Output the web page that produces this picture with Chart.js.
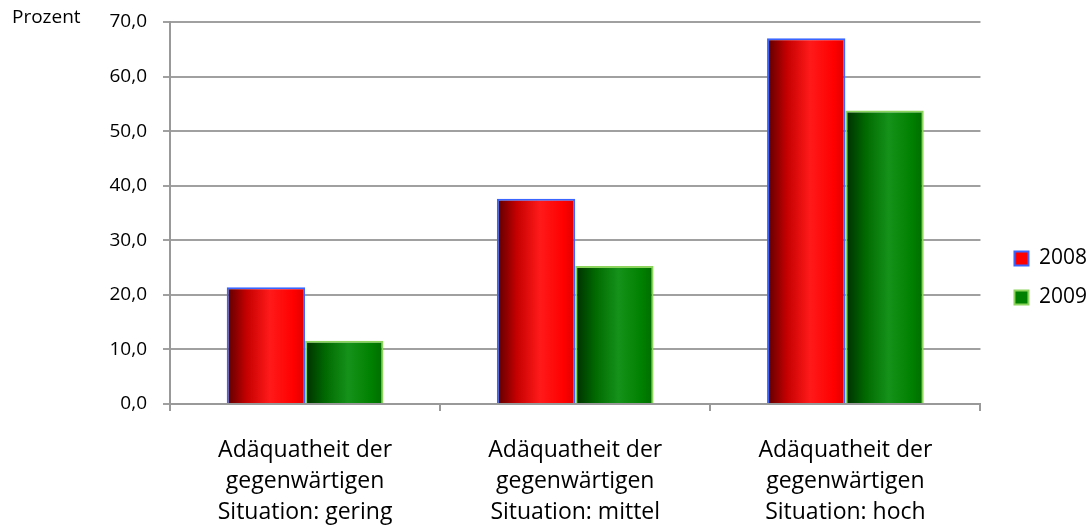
<!DOCTYPE html>
<html>
<head>
<meta charset="utf-8">
<script src="https://cdn.jsdelivr.net/npm/chart.js@4"></script>
<style>
  html, body { margin: 0; padding: 0; background: #fff; }
  #wrap { width: 1090px; height: 526px; }
</style>
</head>
<body>
<div id="wrap"><canvas id="myChart"></canvas></div>
<script>
const categories = [
  ['Adäquatheit der', 'gegenwärtigen', 'Situation: gering'],
  ['Adäquatheit der', 'gegenwärtigen', 'Situation: mittel'],
  ['Adäquatheit der', 'gegenwärtigen', 'Situation: hoch']
];
const values2008 = [21.4, 37.6, 67.0];
const values2009 = [11.6, 25.3, 53.8];
const seriesLabels = ['2008', '2009'];
const yTicks = [0, 10, 20, 30, 40, 50, 60, 70];

const FONT = 'Open Sans';

// horizontal "cylinder" shading of each bar
const shades = [
  [[0, '#5a0000'], [0.25, '#c40000'], [0.55, '#ff1a1a'], [0.85, '#ff0000'], [1, '#e00000']],
  [[0, '#002e00'], [0.25, '#006800'], [0.55, '#15921a'], [0.85, '#008000'], [1, '#006c00']]
];

const barShading = {
  id: 'barShading',
  beforeDatasetsDraw(chart) {
    const ctx = chart.ctx;
    chart.data.datasets.forEach((ds, i) => {
      const meta = chart.getDatasetMeta(i);
      meta.data.forEach((el) => {
        const half = el.width / 2;
        const g = ctx.createLinearGradient(el.x - half, 0, el.x + half, 0);
        shades[i].forEach(([p, c]) => g.addColorStop(p, c));
        // options are shared between bars, so give each bar its own copy
        el.options = Object.assign({}, el.options, { backgroundColor: g });
      });
    });
  }
};

const unitLabel = {
  id: 'unitLabel',
  afterDraw(chart) {
    const ctx = chart.ctx;
    ctx.save();
    ctx.font = '19px "' + FONT + '"';
    ctx.fillStyle = '#000';
    ctx.textAlign = 'left';
    ctx.textBaseline = 'middle';
    ctx.fillText('Prozent', 12, 18);
    ctx.restore();
  }
};

// nudge the legend a little right / down
const legendShift = {
  id: 'legendShift',
  afterLayout(chart) {
    const lg = chart.legend;
    lg.left += 16; lg.right += 16;
    lg.top += 4; lg.bottom += 4;
  }
};

new Chart(document.getElementById('myChart'), {
  type: 'bar',
  data: {
    labels: categories,
    datasets: [
      {
        label: seriesLabels[0],
        data: values2008,
        backgroundColor: '#ff0000',
        borderColor: '#3a66ff',
        borderWidth: 2
      },
      {
        label: seriesLabels[1],
        data: values2009,
        backgroundColor: '#008000',
        borderColor: '#8cd45e',
        borderWidth: 2
      }
    ]
  },
  options: {
    responsive: true,
    maintainAspectRatio: false,
    animation: false,
    devicePixelRatio: 1,
    layout: { padding: { top: 22, right: 9, left: 0, bottom: 0 } },
    datasets: {
      bar: { categoryPercentage: 0.58, barPercentage: 1.0 }
    },
    plugins: {
      tooltip: { enabled: false },
      legend: {
        position: 'right',
        labels: {
          color: '#000',
          font: { family: FONT, size: 21 },
          boxWidth: 14,
          boxHeight: 14,
          padding: 18
        }
      }
    },
    scales: {
      x: {
        grid: {
          display: true,
          offset: true,
          drawOnChartArea: false,
          drawTicks: true,
          tickLength: 7,
          color: '#999',
          lineWidth: 2
        },
        border: { color: '#999', width: 2 },
        ticks: {
          color: '#000',
          font: { family: FONT, size: 23, lineHeight: 1.35 },
          padding: 24,
          maxRotation: 0,
          autoSkip: false
        },
        afterFit(scale) { scale.height = 122; }
      },
      y: {
        min: 0,
        max: 70,
        afterBuildTicks(scale) { scale.ticks = yTicks.map(v => ({ value: v })); },
        grid: {
          color: '#a0a0a0',
          lineWidth: 2,
          tickLength: 7
        },
        border: { color: '#999', width: 2 },
        ticks: {
          color: '#000',
          font: { family: FONT, size: 19 },
          padding: 16,
          callback: (v) => v.toFixed(1).replace('.', ',')
        },
        afterFit(scale) {
          scale.width = 170;
          scale.paddingTop = 0;
          scale.paddingBottom = 0;
        }
      }
    }
  },
  plugins: [barShading, unitLabel, legendShift]
});
</script>
</body>
</html>
